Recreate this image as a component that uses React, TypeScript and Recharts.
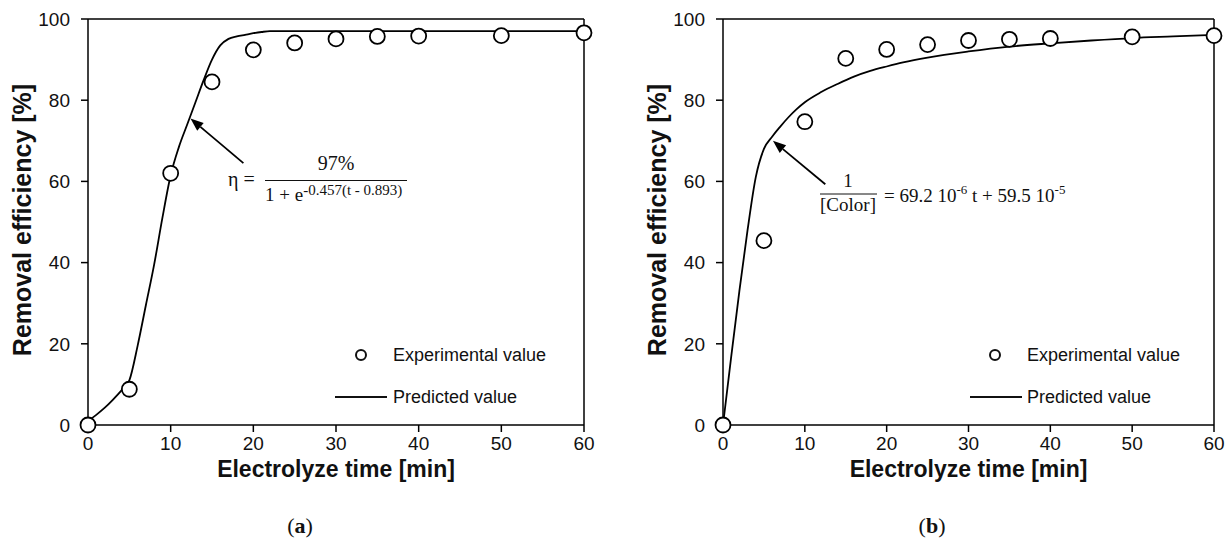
import React from 'react';
import { ComposedChart, Line, Scatter, XAxis, YAxis, ReferenceLine } from 'recharts';

const timeTicks = [0, 10, 20, 30, 40, 50, 60];
const effTicks = [0, 20, 40, 60, 80, 100];

const expTime = [0, 5, 10, 15, 20, 25, 30, 35, 40, 50, 60];
const expA = [0, 8.8, 62, 84.5, 92.4, 94.1, 95.1, 95.7, 95.8, 95.9, 96.6];
const expB = [0, 45.4, 74.7, 90.3, 92.5, 93.7, 94.7, 95, 95.2, 95.6, 95.9];

const predTimeA = [0, 1, 2, 3, 4, 5, 6, 7, 8, 9, 10, 11, 12, 13, 14, 15, 16, 17, 18, 19, 20, 21, 22, 30, 40, 50, 60];
const predA = [1, 2.5, 4.2, 6.2, 8.4, 11, 19.5, 29.5, 39.5, 51, 61.5, 68.5, 74, 79.5, 85, 90, 93.5, 95.1, 95.7, 96.1, 96.5, 96.8, 97, 97, 97, 97, 97];

const predTimeB = [0, 1, 2, 3, 4, 5, 6, 7, 8, 9, 10, 12, 14, 16, 18, 20, 22, 25, 30, 35, 40, 45, 50, 55, 60];
const predB = [0, 16.8, 33, 48, 61, 68, 71, 73.5, 75.8, 77.8, 79.5, 82, 84, 85.8, 87.2, 88.3, 89.3, 90.5, 92, 93.2, 94, 94.7, 95.3, 95.7, 96.1];

const toPoints = (xs: number[], ys: number[]) => xs.map((t, i) => ({ t, v: ys[i] }));

const SANS = '"Liberation Sans", Arial, sans-serif';
const SERIF = '"Liberation Serif", "Times New Roman", serif';

const arrowShape = (p: any) => {
  const { x1, y1, x2, y2 } = p;
  const ang = Math.atan2(y2 - y1, x2 - x1);
  const L = 13;
  const W = 5;
  const bx = x2 - L * Math.cos(ang);
  const by = y2 - L * Math.sin(ang);
  const px = -Math.sin(ang) * W;
  const py = Math.cos(ang) * W;
  return (
    <g>
      <line x1={x1} y1={y1} x2={bx} y2={by} stroke="#000" strokeWidth={1.8} />
      <polygon points={`${x2},${y2} ${bx + px},${by + py} ${bx - px},${by - py}`} fill="#000" />
    </g>
  );
};

const circleShape = (p: any) => (
  <circle cx={p.cx} cy={p.cy} r={7.5} fill="#fff" stroke="#000" strokeWidth={1.8} />
);

type PanelProps = {
  exp: number[];
  predT: number[];
  pred: number[];
  plotLeft: number;
  plotRight: number;
  titleX: number;
  arrow: { x: number; y: number }[];
};

const W = 616;
const H = 551;

function Panel({ exp, predT, pred, plotLeft, plotRight, titleX, arrow }: PanelProps) {
  const xAxisH = 60;
  return (
    <ComposedChart
      width={W}
      height={H}
      margin={{ top: 19, right: W - plotRight, bottom: H - 425 - xAxisH, left: 0 }}
    >
      <XAxis
        dataKey="t"
        type="number"
        domain={[0, 60]}
        ticks={timeTicks}
        height={xAxisH}
        tickSize={7}
        tickMargin={5}
        axisLine={{ stroke: '#000', strokeWidth: 1.5 }}
        tickLine={{ stroke: '#000', strokeWidth: 1.5 }}
        tick={{ fill: '#111', fontSize: 19, fontFamily: SANS }}
        label={{
          content: (props: any) => {
            const vb = props.viewBox;
            return (
              <text
                x={vb.x + vb.width / 2}
                y={vb.y + 52}
                textAnchor="middle"
                fontFamily={SANS}
                fontWeight="bold"
                fontSize={23}
                fill="#111"
              >
                Electrolyze time [min]
              </text>
            );
          },
        }}
      />
      <YAxis
        type="number"
        domain={[0, 100]}
        ticks={effTicks}
        width={plotLeft}
        tickSize={7}
        tickMargin={11}
        axisLine={{ stroke: '#000', strokeWidth: 1.5 }}
        tickLine={{ stroke: '#000', strokeWidth: 1.5 }}
        tick={{ fill: '#111', fontSize: 19, fontFamily: SANS }}
        label={{
          content: (props: any) => {
            const vb = props.viewBox;
            const cy = vb.y + vb.height / 2 - 2;
            return (
              <text
                x={titleX}
                y={cy}
                transform={`rotate(-90 ${titleX} ${cy})`}
                textAnchor="middle"
                dominantBaseline="central"
                fontFamily={SANS}
                fontWeight="bold"
                fontSize={25}
                fill="#111"
              >
                Removal efficiency [%]
              </text>
            );
          },
        }}
      />
      <ReferenceLine y={100} stroke="#000" strokeWidth={1.5} />
      <ReferenceLine x={60} stroke="#000" strokeWidth={1.5} />
      <ReferenceLine segment={arrow} shape={arrowShape} />
      <Line
        data={toPoints(predT, pred)}
        dataKey="v"
        type="monotone"
        stroke="#000"
        strokeWidth={1.8}
        dot={false}
        isAnimationActive={false}
      />
      <Scatter
        data={toPoints(expTime, exp)}
        dataKey="v"
        shape={circleShape}
        isAnimationActive={false}
      />
    </ComposedChart>
  );
}

function Overlay() {
  const t = { fontFamily: SERIF, fill: '#111' };
  const lg = { fontFamily: SANS, fontSize: 18, fill: '#111' };
  return (
    <svg width={1232} height={551} style={{ position: 'absolute', left: 0, top: 0, pointerEvents: 'none' }}>
      {/* formula a */}
      <text x={228} y={186} fontSize={20} {...t}>η =</text>
      <text x={336} y={170} fontSize={20} textAnchor="middle" {...t}>97%</text>
      <line x1={265} y1={180.5} x2={407} y2={180.5} stroke="#111" strokeWidth={1} />
      <text x={265} y={201} fontSize={19} {...t}>
        1 + e<tspan fontSize={15} dy={-6}>-0.457(t - 0.893)</tspan>
      </text>
      {/* formula b */}
      <text x={848} y={187} fontSize={19} textAnchor="middle" {...t}>1</text>
      <line x1={820} y1={194} x2={877} y2={194} stroke="#111" strokeWidth={1} />
      <text x={848} y={211} fontSize={19} textAnchor="middle" {...t}>[Color]</text>
      <text x={884} y={202} fontSize={19} {...t}>
        = 69.2 10<tspan fontSize={13} dy={-8}>-6</tspan>
        <tspan dy={8}> t + 59.5 10</tspan>
        <tspan fontSize={13} dy={-8}>-5</tspan>
      </text>
      {/* legend a */}
      <circle cx={361} cy={355} r={5} fill="#fff" stroke="#111" strokeWidth={2} />
      <text x={393} y={361} {...lg}>Experimental value</text>
      <line x1={335} y1={397} x2={387} y2={397} stroke="#111" strokeWidth={1.8} />
      <text x={393} y={403} {...lg}>Predicted value</text>
      {/* legend b */}
      <circle cx={995} cy={355} r={5} fill="#fff" stroke="#111" strokeWidth={2} />
      <text x={1027} y={361} {...lg}>Experimental value</text>
      <line x1={970} y1={397} x2={1022} y2={397} stroke="#111" strokeWidth={1.8} />
      <text x={1027} y={403} {...lg}>Predicted value</text>
      {/* panel labels */}
      <text x={300} y={533} fontSize={22} textAnchor="middle" {...t}>(<tspan fontWeight="bold">a</tspan>)</text>
      <text x={932} y={533} fontSize={22} textAnchor="middle" {...t}>(<tspan fontWeight="bold">b</tspan>)</text>
    </svg>
  );
}

export default function App() {
  return (
    <div style={{ position: 'absolute', left: 0, top: 0, width: 1232, height: 551, background: '#fff' }}>
      <div style={{ position: 'absolute', left: 0, top: 0 }}>
        <Panel
          exp={expA}
          predT={predTimeA}
          pred={predA}
          plotLeft={88}
          plotRight={584}
          titleX={22}
          arrow={[{ x: 18.8, y: 64.5 }, { x: 12.4, y: 75.5 }]}
        />
      </div>
      <div style={{ position: 'absolute', left: 616, top: 0 }}>
        <Panel
          exp={expB}
          predT={predTimeB}
          pred={predB}
          plotLeft={107}
          plotRight={598}
          titleX={41}
          arrow={[{ x: 12.5, y: 59.3 }, { x: 6.1, y: 70 }]}
        />
      </div>
      <Overlay />
    </div>
  );
}
